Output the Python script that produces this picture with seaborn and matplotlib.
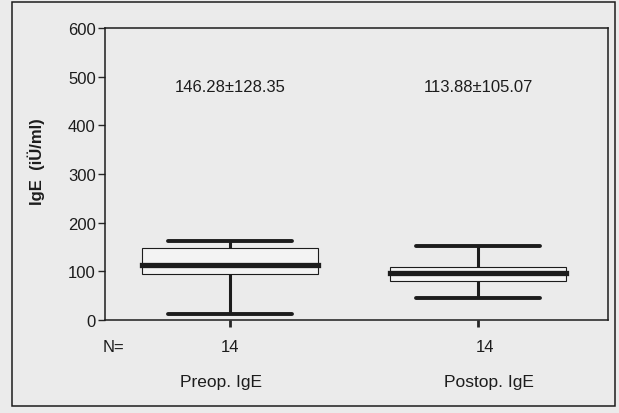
import pandas as pd
import matplotlib.pyplot as plt
import matplotlib.patches as mpatches
import matplotlib.transforms as mtransforms
import seaborn as sns

# values (14 patients per group)
categories = ["Preop. IgE", "Postop. IgE"]
preop_ige = [12, 58, 84, 94, 96, 102, 110, 118, 126, 146, 150, 156, 160, 163]
postop_ige = [45, 62, 74, 80, 84, 88, 94, 99, 103, 108, 110, 122, 138, 152]
stat_labels = ["146.28\u00b1128.35", "113.88\u00b1105.07"]
y_ticks = [0, 100, 200, 300, 400, 500, 600]

paper = "#ebebeb"
ink = "#1c1c1c"


def build_frame():
    df = pd.DataFrame({
        "group": [categories[0]] * len(preop_ige) + [categories[1]] * len(postop_ige),
        "IgE": preop_ige + postop_ige,
    })
    return df


def plot_box(df):
    sns.set_style("white")
    plt.rcParams["font.family"] = ["Liberation Sans", "DejaVu Sans"]

    fig = plt.figure(figsize=(6.19, 4.14), dpi=100, facecolor=paper)
    ax = fig.add_axes([0.1704, 0.2246, 0.8118, 0.7053])
    ax.set_facecolor(paper)

    sns.boxplot(
        data=df, x="group", y="IgE", order=categories, ax=ax,
        width=0.71, whis=(0, 100), showfliers=False,
        color="#f3f3f3", linecolor=ink, linewidth=0.8,
        capwidths=0.5,
        medianprops={"linewidth": 3.8, "solid_capstyle": "projecting"},
        whiskerprops={"linewidth": 2.2},
        capprops={"linewidth": 2.8},
    )

    ax.set_xlim(-0.502, 1.524)
    ax.set_ylim(0, 600)
    ax.set_yticks(y_ticks)
    ax.set_yticklabels([str(t) for t in y_ticks], fontsize=12, color=ink)
    ax.set_xticks(range(len(categories)))
    ax.set_xticklabels(categories, fontsize=12.5, color=ink)
    ax.tick_params(axis="y", direction="out", length=5, width=1, left=True, pad=2)
    ax.tick_params(axis="x", direction="out", length=5, width=2, bottom=True, pad=34)
    # the scan has the names a little off the tick marks
    shifts = [-9, 11]
    for lab, dx in zip(ax.get_xticklabels(), shifts):
        lab.set_transform(lab.get_transform() + mtransforms.ScaledTranslation(dx / 100, 0, fig.dpi_scale_trans))

    for side in ["left", "right", "top", "bottom"]:
        ax.spines[side].set_visible(True)
        ax.spines[side].set_color(ink)
        ax.spines[side].set_linewidth(1.1)

    ax.set_xlabel("")
    ax.set_ylabel("IgE  (iÜ/ml)", fontsize=12, fontweight="bold", color=ink)
    ax.yaxis.set_label_coords(-0.12, 0.545)

    # mean +/- sd text above each box
    for i, label in enumerate(stat_labels):
        ax.text(i, 480, label, ha="center", va="center", fontsize=12, color=ink)

    # N= counts below the axis
    trans = mtransforms.blended_transform_factory(ax.transData, ax.transAxes)
    counts = [len(preop_ige), len(postop_ige)]
    ax.text(-0.515, -0.09, "N=", transform=trans, ha="left", va="center",
            fontsize=12, color=ink)
    for i, n in enumerate(counts):
        ax.text(i + 0.03 * i, -0.09, str(n), transform=trans, ha="center", va="center",
                fontsize=12, color=ink)

    # frame round the whole figure, as in the scan
    frame = mpatches.Rectangle((12 / 619, 1 - 407 / 414), 603 / 619, 404 / 414,
                               transform=fig.transFigure, fill=False,
                               edgecolor=ink, linewidth=1.1)
    fig.patches.append(frame)

    fig.savefig("out.png", dpi=100, facecolor=paper)
    plt.close(fig)


def main():
    df = build_frame()
    plot_box(df)


if __name__ == "__main__":
    main()
